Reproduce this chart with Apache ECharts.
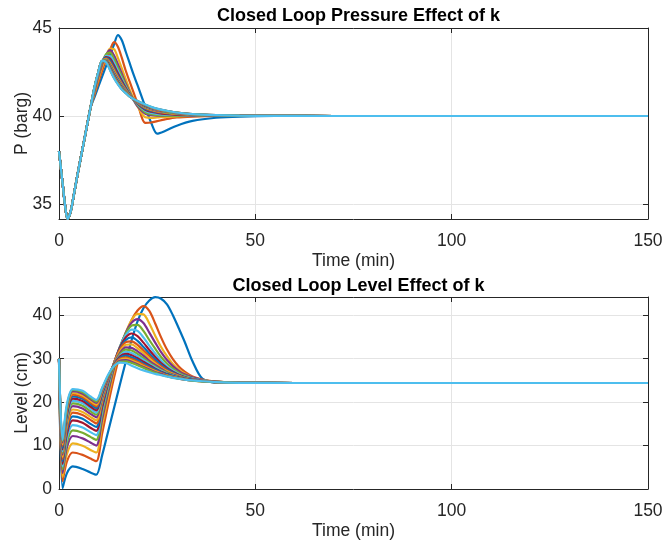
<!DOCTYPE html>
<html>
<head>
<meta charset="utf-8">
<script src="https://cdn.jsdelivr.net/npm/echarts@6/dist/echarts.min.js"></script>
<style>
  html, body { margin: 0; padding: 0; background: #ffffff; }
  #chart { width: 663px; height: 546px; }
</style>
</head>
<body>
<div id="chart"></div>
<script>
// ---- Pressure response (barg) for 20 controller gains k ----
// shared start of every run (identical before the runs diverge)
const pressureTimeHead = [0, 0.5, 1, 1.5, 2.2, 3, 4, 5, 6, 7, 8];
const pressureHead = [38.0, 37.0, 36.0, 35.0, 34.15, 34.6, 35.8, 37.0, 38.15, 39.3, 40.45];
const pressureTimeTail = [9, 10, 11, 12, 13, 14, 15, 16, 17, 18, 19, 20, 22, 23.5, 25, 27, 30, 34, 40, 46, 55, 70, 150];

const pK1  = [41.05, 41.65, 42.25, 42.85, 43.45, 44.05, 44.6, 44.3, 43.65, 43.0, 42.35, 41.75, 40.5, 39.6, 39.0, 39.15, 39.45, 39.72, 39.9, 39.97, 40.0, 40.0, 40.0];
const pK2  = [41.19, 41.90, 42.58, 43.20, 43.74, 44.2, 43.94, 43.30, 42.57, 41.95, 41.33, 40.72, 39.61, 39.63, 39.71, 39.81, 39.92, 39.97, 40.0, 40.0, 40.0, 40.0, 40.0];
const pK3  = [41.29, 42.08, 42.79, 43.38, 43.83, 43.8, 43.3, 42.7, 42.1, 41.5, 41.0, 40.55, 39.93, 39.9, 39.92, 39.95, 39.98, 40.0, 40.0, 40.0, 40.0, 40.0, 40.0];
const pK4  = [41.37, 42.22, 42.94, 43.48, 43.74, 43.45, 42.95, 42.4, 41.85, 41.35, 40.9, 40.55, 40.12, 40.05, 40.02, 40.01, 40.0, 40.0, 40.0, 40.0, 40.0, 40.0, 40.0];
const pK5  = [41.44, 42.33, 43.04, 43.51, 43.6, 43.25, 42.75, 42.25, 41.75, 41.3, 40.92, 40.62, 40.2, 40.1, 40.05, 40.02, 40.01, 40.0, 40.0, 40.0, 40.0, 40.0, 40.0];
const pK6  = [41.47, 42.36, 43.06, 43.42, 43.41, 43.04, 42.57, 42.10, 41.66, 41.26, 40.93, 40.67, 40.29, 40.18, 40.12, 40.08, 40.05, 40.02, 40.01, 40.0, 40.0, 40.0, 40.0];
const pK7  = [41.49, 42.39, 43.08, 43.35, 43.26, 42.88, 42.43, 42.0, 41.6, 41.23, 40.94, 40.70, 40.35, 40.24, 40.18, 40.12, 40.07, 40.04, 40.02, 40.01, 40.0, 40.0, 40.0];
const pK8  = [41.51, 42.41, 43.09, 43.30, 43.15, 42.75, 42.32, 41.91, 41.55, 41.21, 40.94, 40.72, 40.40, 40.29, 40.22, 40.16, 40.10, 40.05, 40.02, 40.01, 40.0, 40.0, 40.0];
const pK9  = [41.53, 42.42, 43.10, 43.26, 43.05, 42.65, 42.23, 41.84, 41.50, 41.19, 40.95, 40.75, 40.45, 40.33, 40.25, 40.18, 40.11, 40.06, 40.03, 40.01, 40.01, 40.0, 40.0];
const pK10 = [41.54, 42.44, 43.11, 43.22, 42.98, 42.57, 42.16, 41.78, 41.47, 41.18, 40.95, 40.76, 40.48, 40.36, 40.28, 40.21, 40.13, 40.07, 40.03, 40.01, 40.01, 40.0, 40.0];
const pK11 = [41.55, 42.45, 43.12, 43.19, 42.91, 42.49, 42.10, 41.73, 41.44, 41.16, 40.95, 40.78, 40.51, 40.39, 40.31, 40.23, 40.14, 40.08, 40.03, 40.01, 40.01, 40.0, 40.0];
const pK12 = [41.56, 42.46, 43.12, 43.17, 42.86, 42.43, 42.04, 41.69, 41.42, 41.15, 40.96, 40.79, 40.53, 40.41, 40.33, 40.24, 40.15, 40.08, 40.04, 40.01, 40.01, 40.0, 40.0];
const pK13 = [41.57, 42.46, 43.13, 43.15, 42.81, 42.38, 42.0, 41.66, 41.40, 41.14, 40.96, 40.80, 40.56, 40.43, 40.34, 40.26, 40.16, 40.09, 40.04, 40.02, 40.01, 40.0, 40.0];
const pK14 = [41.57, 42.47, 43.13, 43.13, 42.77, 42.34, 41.96, 41.63, 41.38, 41.13, 40.96, 40.81, 40.57, 40.45, 40.36, 40.27, 40.17, 40.09, 40.04, 40.02, 40.01, 40.0, 40.0];
const pK15 = [41.58, 42.48, 43.14, 43.11, 42.73, 42.30, 41.93, 41.60, 41.36, 41.13, 40.96, 40.82, 40.59, 40.47, 40.37, 40.28, 40.18, 40.10, 40.04, 40.02, 40.01, 40.0, 40.0];
const pK16 = [41.58, 42.48, 43.14, 43.10, 42.70, 42.26, 41.89, 41.57, 41.35, 41.12, 40.97, 40.83, 40.61, 40.48, 40.38, 40.29, 40.18, 40.10, 40.05, 40.02, 40.01, 40.0, 40.0];
const pK17 = [41.59, 42.49, 43.14, 43.08, 42.67, 42.23, 41.87, 41.55, 41.33, 41.11, 40.97, 40.83, 40.62, 40.49, 40.39, 40.30, 40.19, 40.10, 40.05, 40.02, 40.01, 40.0, 40.0];
const pK18 = [41.59, 42.49, 43.14, 43.07, 42.65, 42.20, 41.84, 41.53, 41.32, 41.11, 40.97, 40.84, 40.63, 40.50, 40.40, 40.31, 40.19, 40.11, 40.05, 40.02, 40.01, 40.0, 40.0];
const pK19 = [41.60, 42.50, 43.15, 43.06, 42.62, 42.17, 41.82, 41.52, 41.31, 41.10, 40.97, 40.85, 40.64, 40.51, 40.41, 40.31, 40.20, 40.11, 40.05, 40.02, 40.01, 40.0, 40.0];
const pK20 = [41.60, 42.50, 43.15, 43.05, 42.60, 42.15, 41.80, 41.50, 41.30, 41.10, 40.97, 40.85, 40.65, 40.52, 40.42, 40.32, 40.20, 40.11, 40.05, 40.02, 40.01, 40.0, 40.0];

// ---- Level response (cm) for the same 20 gains ----
const levelTime = [0, 0.9, 2, 3.5, 6, 8, 9.5, 11, 12.5, 14, 15.5, 17, 18.5, 20, 21.5, 23, 24.5, 26, 27.5, 29, 30.5, 32, 34, 36.5, 40, 46, 60, 150];

const lK1  = [30, 0.2, 3.6, 5.2, 4.6, 3.8, 3.3, 7.8, 13.2, 18.6, 24.0, 29.3, 34.3, 38.6, 41.6, 43.4, 44.15, 43.8, 42.5, 40.0, 37.0, 33.9, 29.4, 25.4, 24.5, 24.4, 24.4, 24.4];
const lK2  = [30, 1.8, 6.3, 8.4, 7.85, 7.0, 6.4, 12.8, 19.4, 25.6, 31.0, 35.5, 38.9, 41.1, 42.1, 41.0, 38.1, 34.9, 32.1, 29.9, 28.2, 27.0, 25.9, 25.2, 24.7, 24.45, 24.4, 24.4];
const lK3  = [30, 2.8, 8.0, 10.5, 9.95, 9.0, 8.4, 14.7, 21.1, 27.0, 32.1, 36.0, 38.9, 40.3, 40.2, 38.1, 35.3, 32.7, 30.6, 28.8, 27.5, 26.6, 25.7, 25.1, 24.7, 24.45, 24.4, 24.4];
const lK4  = [30, 3.7, 9.5, 12.2, 11.65, 10.7, 10.0, 16.1, 22.2, 27.8, 32.5, 36.0, 38.3, 39.1, 38.2, 36.0, 33.7, 31.5, 29.7, 28.3, 27.2, 26.4, 25.7, 25.1, 24.7, 24.45, 24.4, 24.4];
const lK5  = [30, 4.5, 10.6, 13.5, 12.95, 12.0, 11.3, 17.2, 23.1, 28.4, 32.7, 35.8, 37.6, 37.8, 36.4, 34.3, 32.3, 30.4, 28.9, 27.7, 26.8, 26.1, 25.5, 25.0, 24.7, 24.45, 24.4, 24.4];
const lK6  = [30, 5.2, 11.6, 14.7, 14.15, 13.1, 12.4, 18.1, 23.8, 28.8, 32.7, 35.4, 36.7, 36.4, 34.9, 33.0, 31.2, 29.6, 28.3, 27.3, 26.5, 25.9, 25.4, 25.0, 24.65, 24.45, 24.4, 24.4];
const lK7  = [30, 5.8, 12.6, 15.8, 15.25, 14.1, 13.4, 18.8, 24.3, 29.0, 32.6, 34.9, 35.8, 35.2, 33.7, 32.0, 30.4, 29.0, 27.9, 27.0, 26.3, 25.8, 25.3, 24.9, 24.65, 24.45, 24.4, 24.4];
const lK8  = [30, 6.4, 13.4, 16.7, 16.15, 15.0, 14.3, 19.5, 24.6, 29.0, 32.3, 34.3, 34.9, 34.1, 32.7, 31.2, 29.8, 28.6, 27.6, 26.8, 26.2, 25.7, 25.3, 24.9, 24.6, 24.45, 24.4, 24.4];
const lK9  = [30, 6.9, 14.1, 17.6, 17.05, 15.9, 15.1, 20.0, 24.9, 29.0, 32.1, 33.8, 34.0, 33.2, 31.9, 30.6, 29.3, 28.2, 27.3, 26.6, 26.1, 25.6, 25.2, 24.9, 24.6, 24.45, 24.4, 24.4];
const lK10 = [30, 7.4, 14.8, 18.3, 17.75, 16.6, 15.8, 20.5, 25.1, 28.9, 31.7, 33.2, 33.3, 32.4, 31.3, 30.0, 28.9, 27.9, 27.1, 26.5, 26.0, 25.6, 25.2, 24.9, 24.6, 24.45, 24.4, 24.4];
const lK11 = [30, 7.9, 15.5, 19.1, 18.55, 17.3, 16.5, 20.9, 25.2, 28.8, 31.3, 32.6, 32.5, 31.7, 30.7, 29.5, 28.55, 27.7, 26.9, 26.35, 25.9, 25.5, 25.2, 24.9, 24.6, 24.45, 24.4, 24.4];
const lK12 = [30, 8.3, 16.0, 19.7, 19.15, 17.9, 17.1, 21.3, 25.4, 28.7, 31.0, 32.1, 31.9, 31.1, 30.1, 29.1, 28.2, 27.4, 26.8, 26.2, 25.8, 25.5, 25.1, 24.85, 24.6, 24.45, 24.4, 24.4];
const lK13 = [30, 8.7, 16.5, 20.3, 19.75, 18.5, 17.6, 21.6, 25.5, 28.6, 30.7, 31.6, 31.3, 30.6, 29.7, 28.8, 28.0, 27.2, 26.6, 26.1, 25.7, 25.4, 25.1, 24.85, 24.6, 24.45, 24.4, 24.4];
const lK14 = [30, 9.1, 17.0, 20.8, 20.25, 19.0, 18.1, 21.9, 25.6, 28.6, 30.5, 31.1, 30.8, 30.1, 29.3, 28.5, 27.7, 27.0, 26.5, 26.0, 25.7, 25.4, 25.1, 24.85, 24.6, 24.45, 24.4, 24.4];
const lK15 = [30, 9.5, 17.5, 21.3, 20.75, 19.5, 18.6, 22.2, 25.8, 28.5, 30.2, 30.7, 30.3, 29.7, 28.9, 28.2, 27.5, 26.9, 26.4, 26.0, 25.6, 25.35, 25.1, 24.8, 24.6, 24.45, 24.4, 24.4];
const lK16 = [30, 9.9, 17.9, 21.7, 21.15, 19.9, 19.0, 22.5, 25.8, 28.4, 30.0, 30.3, 29.9, 29.3, 28.6, 27.9, 27.2, 26.7, 26.2, 25.8, 25.5, 25.3, 25.0, 24.8, 24.6, 24.45, 24.4, 24.4];
const lK17 = [30, 10.3, 18.3, 22.1, 21.55, 20.3, 19.4, 22.7, 25.9, 28.3, 29.7, 30.0, 29.6, 29.0, 28.3, 27.7, 27.1, 26.6, 26.1, 25.8, 25.5, 25.25, 25.0, 24.8, 24.6, 24.45, 24.4, 24.4];
const lK18 = [30, 10.7, 18.7, 22.5, 21.95, 20.7, 19.8, 22.9, 25.9, 28.2, 29.5, 29.65, 29.3, 28.7, 28.1, 27.5, 26.95, 26.5, 26.0, 25.7, 25.4, 25.2, 25.0, 24.8, 24.6, 24.45, 24.4, 24.4];
const lK19 = [30, 11.0, 19.0, 22.8, 22.25, 21.0, 20.1, 23.2, 26.0, 28.2, 29.3, 29.4, 29.0, 28.5, 27.9, 27.3, 26.8, 26.3, 25.95, 25.6, 25.4, 25.2, 24.95, 24.75, 24.6, 24.45, 24.4, 24.4];
const lK20 = [30, 11.3, 19.5, 23.0, 22.6, 21.3, 20.5, 23.3, 26.3, 28.3, 29.1, 29.0, 28.4, 27.8, 27.3, 26.9, 26.5, 26.2, 25.9, 25.6, 25.4, 25.2, 25.0, 24.8, 24.6, 24.45, 24.4, 24.4];

// axis ticks
const timeTicks = [0, 50, 100, 150];
const pressureTicks = [35, 40, 45];
const levelTicks = [0, 10, 20, 30, 40];

const pressureRuns = [pK1, pK2, pK3, pK4, pK5, pK6, pK7, pK8, pK9, pK10,
                      pK11, pK12, pK13, pK14, pK15, pK16, pK17, pK18, pK19, pK20];
const levelRuns = [lK1, lK2, lK3, lK4, lK5, lK6, lK7, lK8, lK9, lK10,
                   lK11, lK12, lK13, lK14, lK15, lK16, lK17, lK18, lK19, lK20];

// default MATLAB line colour order
const lineColors = ['#0072BD', '#D95319', '#EDB120', '#7E2F8E', '#77AC30', '#4DBEEE', '#A2142F'];

const FONT = '"Liberation Sans", Arial, Helvetica, sans-serif';
const INK = '#262626';
const GRID_LINE = '#e4e4e4';
const LABEL_SIZE = 17.5;

function zip(times, values) {
  return times.map((t, i) => [t, values[i]]);
}

const pressureTime = pressureTimeHead.concat(pressureTimeTail);

function xAxes(gridIndex) {
  const common = {
    type: 'value', gridIndex: gridIndex, min: 0, max: 150, interval: 50,
    axisLine: { show: true, onZero: false, lineStyle: { color: INK, width: 1 } },
    axisTick: { show: true, inside: true, length: 5, customValues: timeTicks, lineStyle: { color: INK } }
  };
  return [
    Object.assign({}, common, {
      position: 'bottom',
      axisLabel: { color: INK, fontSize: LABEL_SIZE, fontFamily: FONT, margin: 13, customValues: timeTicks },
      splitLine: { show: true, lineStyle: { color: GRID_LINE, width: 1 } },
      name: 'Time (min)', nameLocation: 'middle', nameGap: 33, nameMoveOverlap: false,
      nameTextStyle: { color: INK, fontSize: LABEL_SIZE, fontFamily: FONT }
    }),
    Object.assign({}, common, {
      position: 'top',
      axisLabel: { show: false },
      splitLine: { show: false }
    })
  ];
}

function yAxes(gridIndex, min, max, ticks, name) {
  const common = {
    type: 'value', gridIndex: gridIndex, min: min, max: max,
    axisLine: { show: true, onZero: false, lineStyle: { color: INK, width: 1 } },
    axisTick: { show: true, inside: true, length: 5, customValues: ticks, lineStyle: { color: INK } }
  };
  return [
    Object.assign({}, common, {
      position: 'left',
      axisLabel: { color: INK, fontSize: LABEL_SIZE, fontFamily: FONT, margin: 7, customValues: ticks },
      splitLine: { show: true, lineStyle: { color: GRID_LINE, width: 1 } },
      name: name, nameLocation: 'middle', nameGap: 28, nameRotate: 90, nameMoveOverlap: false,
      nameTextStyle: { color: INK, fontSize: LABEL_SIZE, fontFamily: FONT }
    }),
    Object.assign({}, common, {
      position: 'right',
      axisLabel: { show: false },
      splitLine: { show: false }
    })
  ];
}

function runSeries(runs, times, xIndex, yIndex, head) {
  return runs.map((vals, i) => ({
    type: 'line',
    xAxisIndex: xIndex,
    yAxisIndex: yIndex,
    data: zip(times, head ? head.concat(vals) : vals),
    showSymbol: false,
    symbol: 'none',
    smooth: 0.3,
    clip: true,
    lineStyle: { width: 2.2, color: lineColors[i % lineColors.length] },
    emphasis: { disabled: true }
  }));
}

const chart = echarts.init(document.getElementById('chart'), null, { renderer: 'canvas' });

chart.setOption({
  animation: false,
  backgroundColor: '#ffffff',
  title: [
    {
      text: 'Closed Loop Pressure Effect of k',
      left: 353.5, top: 2, textAlign: 'center',
      textStyle: { color: '#000000', fontSize: 18, fontWeight: 'bold', fontFamily: FONT }
    },
    {
      text: 'Closed Loop Level Effect of k',
      left: 353.5, top: 272, textAlign: 'center',
      textStyle: { color: '#000000', fontSize: 18, fontWeight: 'bold', fontFamily: FONT }
    }
  ],
  grid: [
    { left: 59, width: 589, top: 28, height: 191, containLabel: false, outerBoundsMode: 'none' },
    { left: 59, width: 589, top: 297, height: 192, containLabel: false, outerBoundsMode: 'none' }
  ],
  xAxis: xAxes(0).concat(xAxes(1)),
  yAxis: yAxes(0, 34.15, 45, pressureTicks, 'P (barg)')
    .concat(yAxes(1, 0, 44.2, levelTicks, 'Level (cm)')),
  series: runSeries(pressureRuns, pressureTime, 0, 0, pressureHead)
    .concat(runSeries(levelRuns, levelTime, 2, 2, null))
});
</script>
</body>
</html>
